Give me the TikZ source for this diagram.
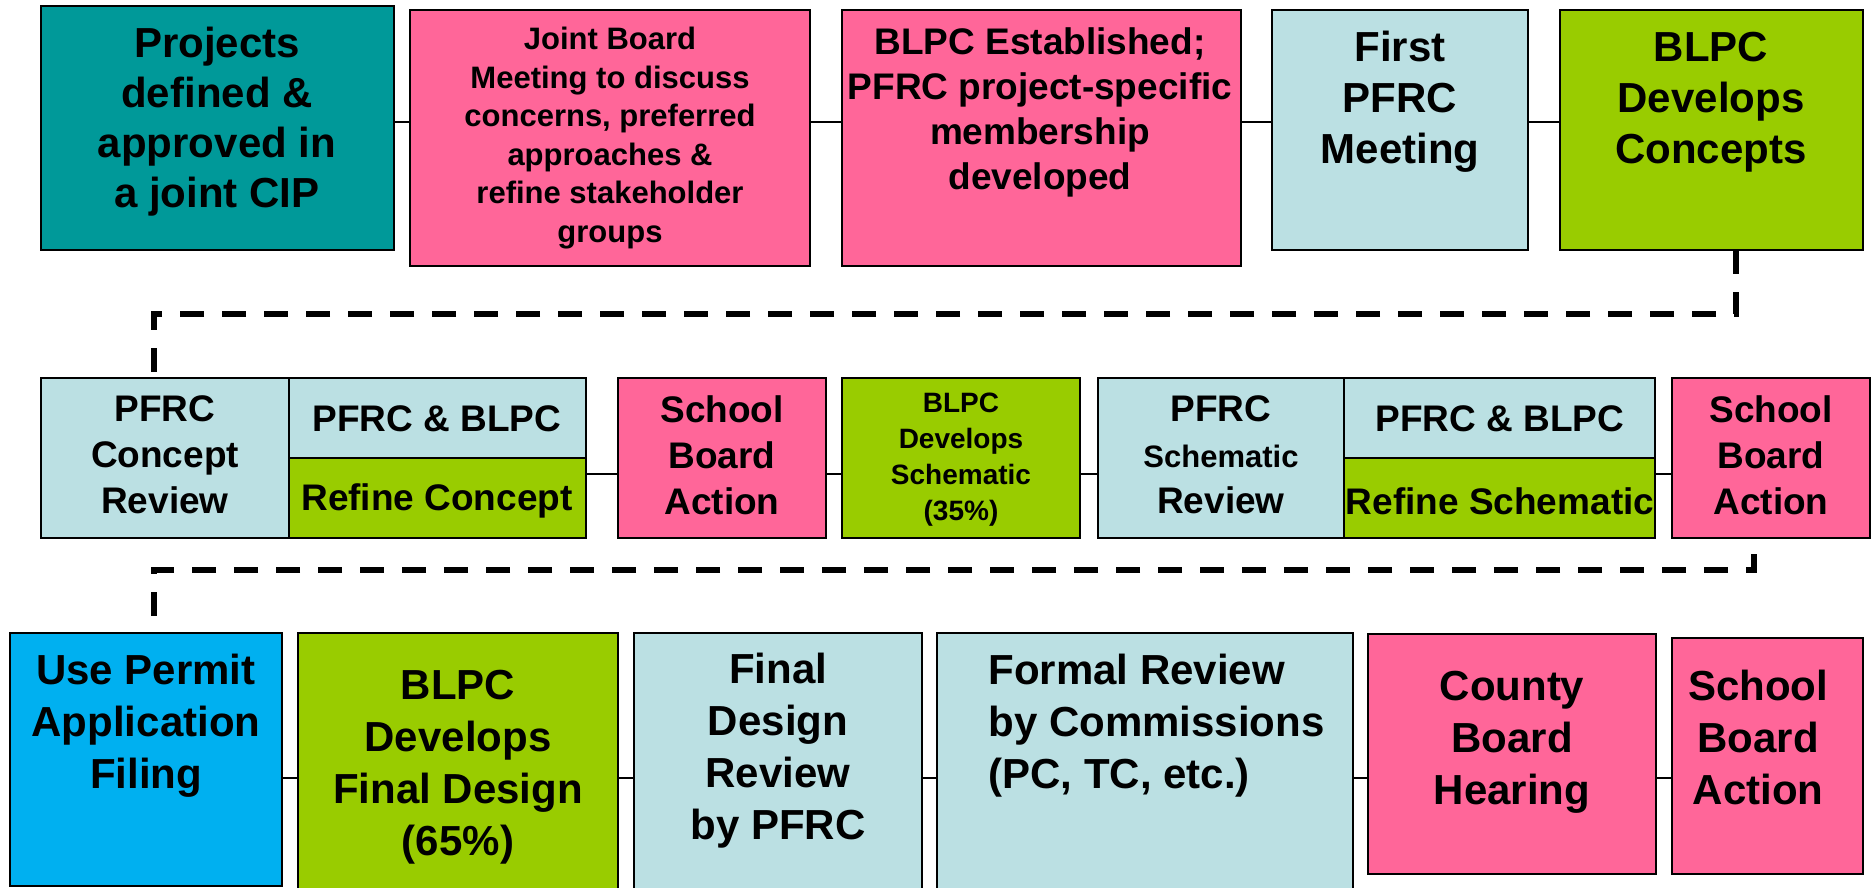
\documentclass[tikz,border=0pt]{standalone}
\usepackage{fontspec}
\setmainfont{Liberation Sans}
\usetikzlibrary{fit,calc}
\definecolor{cteal}{HTML}{009999}
\definecolor{cpink}{HTML}{FF6699}
\definecolor{clb}{HTML}{BBE0E3}
\definecolor{cgreen}{HTML}{99CC00}
\definecolor{cblue}{HTML}{00B0F0}
\newcommand{\fsz}[2]{\fontsize{#1}{#2}\selectfont}
\begin{document}
\begin{tikzpicture}[x=0.5pt,y=-0.5pt,
  box/.style={draw=black, line width=1pt, inner sep=0pt, outer sep=0pt},
  txt/.style={align=center, inner sep=0pt, font=\bfseries},
  link/.style={draw=black, line width=1pt},
  dlink/.style={draw=black, line width=3pt, dash pattern=on 12pt off 9pt}]
\useasboundingbox (0,0) rectangle (1873,888);
% row 1
\node[box, fill=cteal, fit={(41,6) (394,250)}] (b1) {};
\node[box, fill=cpink, fit={(410,10) (810,266)}] (b2) {};
\node[box, fill=cpink, fit={(842,10) (1241,266)}] (b3) {};
\node[box, fill=clb, fit={(1272,10) (1528,250)}] (b4) {};
\node[box, fill=cgreen, fit={(1560,10) (1863,250)}] (b5) {};
\node[txt, font=\bfseries\fsz{21}{25}] (tb1) at (217,122) {Projects\\defined \&\\approved in\\a joint CIP};
\node[txt, font=\bfseries\fsz{15.5}{19.3}] (tb2) at (610,138) {Joint Board\\Meeting to discuss\\concerns, preferred\\approaches \&\\refine stakeholder\\groups};
\node[txt, font=\bfseries\fsz{18.5}{22.5}] (tb3) at (1040,112) {BLPC Established;\\PFRC project-specific\\membership\\developed};
\node[txt, font=\bfseries\fsz{21}{25.5}] (tb4) at (1400,102) {First\\PFRC\\Meeting};
\node[txt, font=\bfseries\fsz{21}{25.5}] (tb5) at (1711,102) {BLPC\\Develops\\Concepts};
\coordinate (r1) at (0,122);
\draw[link] (b1.east |- r1) -- (b2.west |- r1);
\draw[link] (b2.east |- r1) -- (b3.west |- r1);
\draw[link] (b3.east |- r1) -- (b4.west |- r1);
\draw[link] (b4.east |- r1) -- (b5.west |- r1);
% row 2
\node[box, fill=clb, fit={(41,378) (289,538)}] (c1) {};
\node[box, fill=clb, fit={(289,378) (586,458)}] (c2a) {};
\node[box, fill=cgreen, fit={(289,458) (586,538)}] (c2b) {};
\node[box, fill=cpink, fit={(618,378) (826,538)}] (c3) {};
\node[box, fill=cgreen, fit={(842,378) (1080,538)}] (c4) {};
\node[box, fill=clb, fit={(1098,378) (1344,538)}] (c5) {};
\node[box, fill=clb, fit={(1344,378) (1655,458)}] (c6a) {};
\node[box, fill=cgreen, fit={(1344,458) (1655,538)}] (c6b) {};
\node[box, fill=cpink, fit={(1672,378) (1870,538)}] (c7) {};
\node[txt, font=\bfseries\fsz{18.5}{23}] (tc1) at (165,455) {PFRC\\Concept\\Review};
\node[txt, font=\bfseries\fsz{18.5}{23}] (tc2a) at (437,419) {PFRC \& BLPC};
\node[txt, font=\bfseries\fsz{18.5}{23}] (tc2b) at (437,501) {Refine Concept};
\node[txt, font=\bfseries\fsz{18.5}{23}] (tc3) at (722,455) {School\\Board\\Action};
\node[txt, font=\bfseries\fsz{14}{18}] (tc4) at (961,460) {BLPC\\Develops\\Schematic\\(35\%)};
\node[txt, font=\bfseries\fsz{18.5}{23}] (tc5) at (1221,455) {PFRC\\{\fsz{15.5}{21}Schematic}\\Review};
\node[txt, font=\bfseries\fsz{18.5}{23}] (tc6a) at (1500,419) {PFRC \& BLPC};
\node[txt, font=\bfseries\fsz{18.5}{23}] (tc6b) at (1500,501) {Refine Schematic};
\node[txt, font=\bfseries\fsz{18.5}{23}] (tc7) at (1771,455) {School\\Board\\Action};
\coordinate (r2) at (0,474);
\draw[link] (c2b.east |- r2) -- (c3.west |- r2);
\draw[link] (c3.east |- r2) -- (c4.west |- r2);
\draw[link] (c4.east |- r2) -- (c5.west |- r2);
\draw[link] (c6b.east |- r2) -- (c7.west |- r2);
% row 3
\node[box, fill=cblue, fit={(10,633) (282,886)}] (d1) {};
\node[box, fill=cgreen, fit={(298,633) (618,894)}] (d2) {};
\node[box, fill=clb, fit={(634,633) (922,894)}] (d3) {};
\node[box, fill=clb, fit={(937,633) (1353,894)}] (d4) {};
\node[box, fill=cpink, fit={(1368,634) (1656,874)}] (d5) {};
\node[box, fill=cpink, fit={(1672,638) (1863,874)}] (d6) {};
\node[txt, font=\bfseries\fsz{21}{26}] (td1) at (146,726) {Use Permit\\Application\\Filing};
\node[txt, font=\bfseries\fsz{21}{26}] (td2) at (458,767) {BLPC\\Develops\\Final Design\\(65\%)};
\node[txt, font=\bfseries\fsz{21}{26}] (td3) at (778,751) {Final\\Design\\Review\\by PFRC};
\node[txt, align=left, anchor=west, font=\bfseries\fsz{21}{26}] (td4) at (988,726) {Formal Review\\by Commissions\\(PC, TC, etc.)};
\node[txt, font=\bfseries\fsz{21}{26}] (td5) at (1512,742) {County\\Board\\Hearing};
\node[txt, font=\bfseries\fsz{21}{26}] (td6) at (1758,737) {School\\Board\\Action};
\coordinate (r3) at (0,778);
\draw[link] (d1.east |- r3) -- (d2.west |- r3);
\draw[link] (d2.east |- r3) -- (d3.west |- r3);
\draw[link] (d3.east |- r3) -- (d4.west |- r3);
\draw[link] (d4.east |- r3) -- (d5.west |- r3);
\draw[link] (d5.east |- r3) -- (d6.west |- r3);
% dashed connectors
\coordinate (k1) at (1736,314);
\coordinate (k2) at (154,314);
\draw[dlink] (b5.south -| k1) -- (k1) -- (k2) -- (c1.north -| k2);
\coordinate (k3) at (1754,570);
\coordinate (k4) at (154,570);
\draw[dlink, dash phase=13pt] (c7.south -| k3) -- (k3) -- (k4) -- (d1.north -| k4);
\end{tikzpicture}
\end{document}
